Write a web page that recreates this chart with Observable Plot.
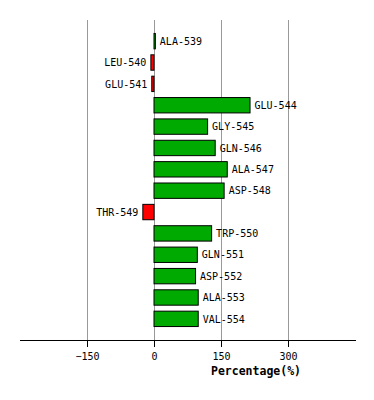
<!DOCTYPE html>
<html>
<head>
<meta charset="utf-8">
<script src="https://cdn.jsdelivr.net/npm/d3@7"></script>
<script src="https://cdn.jsdelivr.net/npm/@observablehq/plot@0.6"></script>
<style>
  body { margin: 0; background: #fff; }
  #chart svg { display: block; }
</style>
</head>
<body>
<div id="chart"></div>
<script>
const residues = ["ALA-539","LEU-540","GLU-541","GLU-544","GLY-545","GLN-546","ALA-547","ASP-548","THR-549","TRP-550","GLN-551","ASP-552","ALA-553","VAL-554"];
const percentages = [3, -7, -5, 215, 120, 137, 164, 157, -25, 129, 97, 93, 99, 99];
const xTicks = [-150, 0, 150, 300];
const xLabel = "Percentage(%)";

const rows = residues.map((r, i) => ({residue: r, value: percentages[i]}));
const pos = rows.filter(d => d.value >= 0);
const neg = rows.filter(d => d.value < 0);

const chart = Plot.plot({
  width: 374,
  height: 400,
  marginLeft: 20,
  marginRight: 19,
  marginTop: 20,
  marginBottom: 60,
  style: {fontFamily: "DejaVu Sans Mono", fontSize: "10px", color: "#000", background: "#fff"},
  x: {domain: [-300, 450]},
  y: {domain: residues, paddingInner: 0.28, paddingOuter: 0.63, round: false, axis: null},
  marks: [
    Plot.ruleX(xTicks, {stroke: "#999", strokeWidth: 1, strokeOpacity: 1}),
    Plot.frame({anchor: "bottom", stroke: "#000", strokeWidth: 1}),
    Plot.axisX({ticks: xTicks, tickSize: 7, tickPadding: 5, label: null, stroke: "#000", fontSize: 10}),
    Plot.barX(rows, {y: "residue", x: "value", fill: d => d.value >= 0 ? "#00aa00" : "#ff0000", stroke: "#000", strokeWidth: 1}),
    Plot.text(pos, {y: "residue", x: "value", text: "residue", textAnchor: "start", dx: 4, fontSize: 10, fill: "#000"}),
    Plot.text(neg, {y: "residue", x: "value", text: "residue", textAnchor: "end", dx: -5, fontSize: 10, fill: "#000"}),
    Plot.text([xLabel], {frameAnchor: "bottom", text: d => d, dx: 68, dy: 34, fontWeight: "bold", fontSize: 11.5, fill: "#000"})
  ]
});
document.getElementById("chart").append(chart);
</script>
</body>
</html>
